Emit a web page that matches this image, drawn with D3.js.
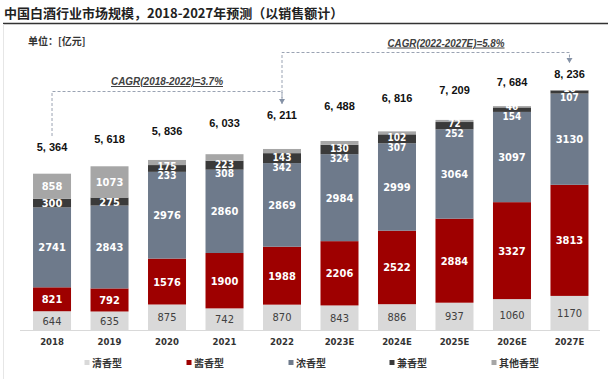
<!DOCTYPE html>
<html><head><meta charset="utf-8">
<script src="https://cdn.jsdelivr.net/npm/d3@7"></script>
<style>
html,body{margin:0;padding:0;background:#fff;}
svg{display:block;}
</style>
</head><body>
<svg id="chart" width="609" height="379"></svg>
<script>
const years = ["2018","2019","2020","2021","2022","2023E","2024E","2025E","2026E","2027E"];
const qingxiang = [644,635,875,742,870,843,886,937,1060,1170];
const jiangxiang = [821,792,1576,1900,1988,2206,2522,2884,3327,3813];
const nongxiang = [2741,2843,2976,2860,2869,2984,2999,3064,3097,3130];
const jianxiang = [300,275,233,308,342,324,307,252,154,107];
const qita = [858,1073,175,223,143,130,102,72,46,16];
const totals = [5364,5618,5836,6033,6211,6488,6816,7209,7684,8236];
const seriesNames = ["清香型","酱香型","浓香型","兼香型","其他香型"];
const cagrLabels = ["CAGR(2018-2022)=3.7%","CAGR(2022-2027E)=5.8%"];
const titleText = "中国白酒行业市场规模，2018-2027年预测（以销售额计）";
const unitText = "单位：[亿元]";

const colors = ["#d9d9d9","#9e0000","#6e7a8b","#3a3a3a","#a6a6a6"];
const labelColors = ["#404040","#fff","#fff","#fff","#fff"];
const keys = ["q","j","n","jx","o"];
const seriesArrays = [qingxiang, jiangxiang, nongxiang, jianxiang, qita];

const rows = years.map((yr,i)=>{
  const r = {year: yr, idx: i};
  keys.forEach((k,ki)=> r[k] = seriesArrays[ki][i]);
  return r;
});

const svg = d3.select("#chart");
const cjk = "'Noto Sans CJK SC', 'Noto Sans', sans-serif";
const narrow = "'Liberation Sans Narrow', 'DejaVu Sans Condensed', 'Liberation Sans', sans-serif";

// title
svg.append("text").attr("x",4).attr("y",17.5)
  .attr("font-family",cjk).attr("font-weight","bold").attr("font-size","13px")
  .attr("fill","#222").text(titleText);
svg.append("line").attr("x1",3).attr("x2",608).attr("y1",23.5).attr("y2",23.5)
  .attr("stroke","#333").attr("stroke-width",1.4);
svg.append("line").attr("x1",3.5).attr("x2",3.5).attr("y1",24).attr("y2",379)
  .attr("stroke","#e6e6e6").attr("stroke-width",1);
svg.append("text").attr("x",28).attr("y",45)
  .attr("font-family",cjk).attr("font-weight","bold").attr("font-size","10px")
  .attr("fill","#333").text(unitText);

const x = d3.scaleBand().domain(years).range([23.25,598.25]).paddingInner(0.339).paddingOuter(0.17);
const y = d3.scaleLinear().domain([0,8236]).range([330,90]);

const stack = d3.stack().keys(keys);
const stacked = stack(rows);

// axis line
svg.append("line").attr("x1",20).attr("x2",600).attr("y1",330.5).attr("y2",330.5)
  .attr("stroke","#d9d9d9").attr("stroke-width",1);

const g = svg.append("g");
stacked.forEach((layer,li)=>{
  g.selectAll(null).data(layer).enter().append("rect")
    .attr("x",d=>x(d.data.year))
    .attr("width",x.bandwidth())
    .attr("y",d=>y(d[1]))
    .attr("height",d=>y(d[0])-y(d[1]))
    .attr("fill",colors[li]);
});

// segment labels
const labG = svg.append("g").attr("font-family",narrow).attr("font-weight","bold")
  .attr("text-anchor","middle");
stacked.forEach((layer,li)=>{
  layer.forEach((d,i)=>{
    let cy = (y(d[0])+y(d[1]))/2;
    const small = (jianxiang[i]+qita[i]) < 700;
    if (small && li===3) cy = y(d[0]) + 4;
    if (small && li===4) cy = y(stacked[3][i][0]) + 4 - 9.5;
    labG.append("text")
      .attr("x",x(d.data.year)+x.bandwidth()/2)
      .attr("y",cy+ (small && li>=3 ? 3.6 : 4))
      .attr("font-size", small && li>=3 ? "10px" : "11px")
      .attr("fill",labelColors[li])
      .attr("font-weight", li===0 ? "normal":"bold")
      .text(seriesArrays[li][i]);
  });
});

// total labels (positioned along a rising guide line)
const labelLine = d3.scaleLinear().domain([0,years.length-1]).range([147,74]);
const fmt = d3.format(",");
svg.append("g").selectAll("text").data(totals).enter().append("text")
  .attr("x",(d,i)=>x(years[i])+x.bandwidth()/2)
  .attr("y",(d,i)=>labelLine(i)+4)
  .attr("text-anchor","middle")
  .attr("font-family","'Liberation Sans', Arial, sans-serif")
  .attr("font-weight","bold").attr("font-size","11px").attr("fill","#111")
  .text(d=>fmt(d).replace(",", ", "));

// x axis labels
svg.append("g").selectAll("text").data(years).enter().append("text")
  .attr("x",d=>x(d)+x.bandwidth()/2)
  .attr("y",345)
  .attr("text-anchor","middle")
  .attr("font-family",narrow).attr("font-weight","bold")
  .attr("font-size","9.5px").attr("fill","#333")
  .text(d=>d);

// CAGR brackets
const cx = yr => x(yr)+x.bandwidth()/2;
const lineColor = "#9aa3b3";
const x0 = cx(years[0]), x4 = cx(years[4]), x9 = cx(years[9]);
svg.append("path")
  .attr("d",`M${x0},136 V91.5 H${x4} V104`)
  .attr("fill","none").attr("stroke",lineColor).attr("stroke-width",1)
  .attr("stroke-dasharray","3,2");
svg.append("path")
  .attr("d",`M${x4},98 V91.5 V52.5 H${x9} V63`)
  .attr("fill","none").attr("stroke",lineColor).attr("stroke-width",1)
  .attr("stroke-dasharray","3,2");
[[x4,104],[x9,63]].forEach(p=>{
  svg.append("path").attr("d",`M${p[0]-3},${p[1]-5} L${p[0]+3},${p[1]-5} L${p[0]},${p[1]} Z`)
    .attr("fill","#8592a6");
});

svg.append("text").attr("x",(x0+x4)/2).attr("y",85).attr("text-anchor","middle")
  .attr("font-family","'Liberation Sans', Arial, sans-serif").attr("font-style","italic")
  .attr("font-weight","bold").attr("font-size","10px").attr("fill","#404040")
  .attr("text-decoration","underline")
  .attr("textLength",112).attr("lengthAdjust","spacingAndGlyphs")
  .text(cagrLabels[0]);
svg.append("text").attr("x",446).attr("y",46.5).attr("text-anchor","middle")
  .attr("font-family","'Liberation Sans', Arial, sans-serif").attr("font-style","italic")
  .attr("font-weight","bold").attr("font-size","10px").attr("fill","#404040")
  .attr("text-decoration","underline")
  .attr("textLength",117).attr("lengthAdjust","spacingAndGlyphs")
  .text(cagrLabels[1]);

// legend
const legX = [87,189,291,392,494];
const leg = svg.append("g");
seriesNames.forEach((s,i)=>{
  leg.append("rect").attr("x",legX[i]-2.5).attr("y",360).attr("width",5).attr("height",5)
    .attr("fill",colors[i]);
  leg.append("text").attr("x",legX[i]+5).attr("y",366.5)
    .attr("font-family",cjk).attr("font-size","10px").attr("font-weight","bold")
    .attr("fill","#333").text(s);
});
</script>
</body></html>
